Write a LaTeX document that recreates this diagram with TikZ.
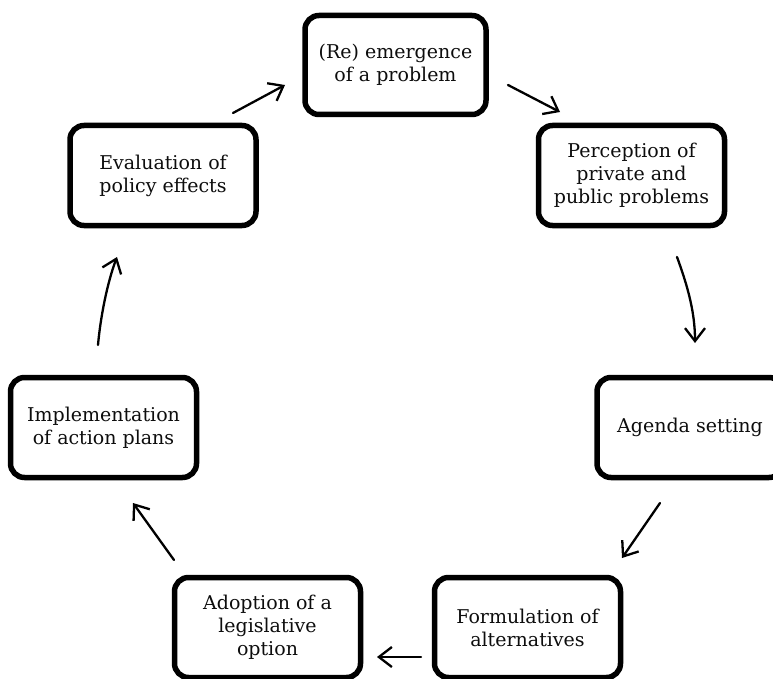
\documentclass[tikz,border=0pt]{standalone}
\usepackage{fontspec}
\setmainfont{DejaVu Serif}
\usetikzlibrary{arrows.meta}
\begin{document}
\begin{tikzpicture}[x=1pt,y=-1pt,
  stage/.style={draw=black, line width=5.5pt, rounded corners=14pt,
    minimum width=186pt, minimum height=100pt, inner sep=0pt,
    align=center, font=\fontsize{19}{23}\selectfont, text=black!95},
  flow/.style={line width=2.3pt, line cap=round,
    -{Straight Barb[length=13pt,width=20pt,line width=2.3pt]}}]
\useasboundingbox (0,0) rectangle (773,679);
\fill[white] (0,0) rectangle (773,679);
% stages
\node[stage, minimum width=181pt, minimum height=99pt] (b1) at (395.5,65) {(Re) emergence\\of a problem};
\node[stage] (b2) at (631.5,175.5) {Perception of\\private and\\public problems};
\node[stage] (b3) at (690,427.5) {Agenda setting};
\node[stage] (b4) at (527.5,627.5) {Formulation of\\alternatives};
\node[stage] (b5) at (267.5,627.5) {Adoption of a\\legislative\\option};
\node[stage] (b6) at (103.5,427.5) {Implementation\\of action plans};
\node[stage] (b7) at (163,175.5) {Evaluation of\\policy effects};
% arrow end points
\coordinate (a1s) at (233,113); \coordinate (a1e) at (285,85);
\coordinate (a2s) at (508,85);  \coordinate (a2e) at (560,112);
\coordinate (a3s) at (677,257); \coordinate (a3e) at (695,343);
\coordinate (a4s) at (660,503); \coordinate (a4e) at (622,558);
\coordinate (a5s) at (421,657); \coordinate (a5e) at (377,657);
\coordinate (a6s) at (174,560); \coordinate (a6e) at (133,503);
\coordinate (a7s) at (98,345);  \coordinate (a7e) at (117,257);
% connectors
\draw[flow] (a1s) -- (a1e);
\draw[flow] (a2s) -- (a2e);
\draw[flow] (a3s) .. controls (688,287) and (695,313) .. (a3e);
\draw[flow] (a4s) -- (a4e);
\draw[flow] (a5s) -- (a5e);
\draw[flow] (a6s) -- (a6e);
\draw[flow] (a7s) .. controls (100.5,317) and (107.2,283) .. (a7e);
\end{tikzpicture}
\end{document}
